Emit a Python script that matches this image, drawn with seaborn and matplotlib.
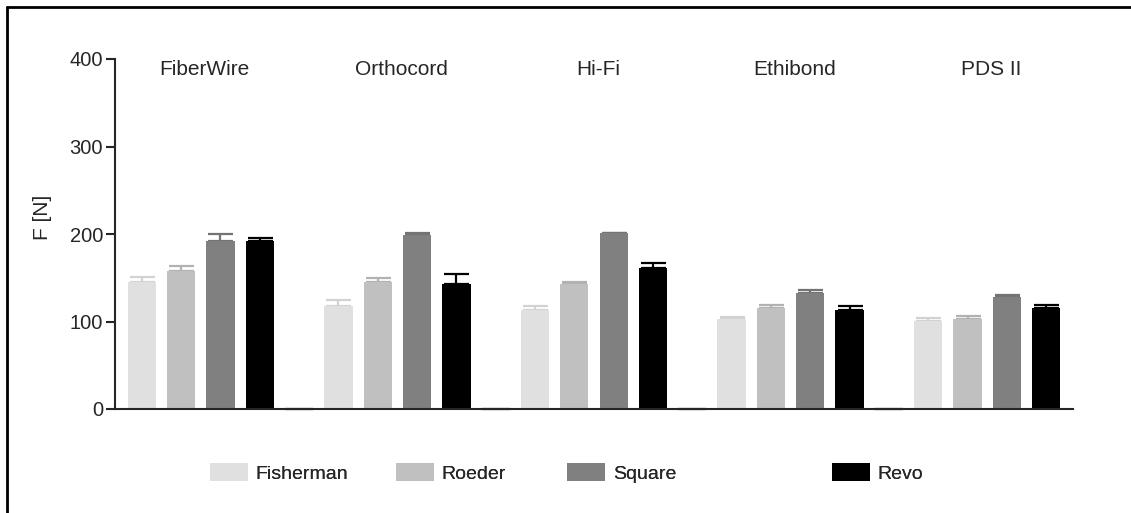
import numpy as np
import pandas as pd
import matplotlib
matplotlib.use("Agg")
import matplotlib.pyplot as plt
from matplotlib.lines import Line2D
from matplotlib.patches import Patch
import seaborn as sns

sutures = ["FiberWire", "Orthocord", "Hi-Fi", "Ethibond", "PDS II"]
knots = ["Fisherman", "Roeder", "Square", "Revo"]

fisherman_mean = [145, 118, 113, 103, 101]
fisherman_sd = [5.5, 7, 4.6, 2, 2.6]
roeder_mean = [158, 145, 143, 115, 103]
roeder_sd = [5, 4.6, 2.6, 3.8, 3.8]
square_mean = [192, 199, 201, 133, 128]
square_sd = [8, 2, 0.5, 3.4, 2.3]
revo_mean = [192, 143, 161, 113, 115]
revo_sd = [4, 11, 6.4, 4.9, 4.2]
# empty column GraphPad leaves between suture groups
spacer = [0, 0, 0, 0, 0]

knot_colors = ["#e0e0e0", "#c0c0c0", "#808080", "#000000"]
err_colors = ["#d2d2d2", "#b2b2b2", "#737373", "#000000"]

means = [fisherman_mean, roeder_mean, square_mean, revo_mean]
sds = [fisherman_sd, roeder_sd, square_sd, revo_sd]

rows = []
for knot, vals in zip(knots + ["gap"], means + [spacer]):
    for suture, v in zip(sutures, vals):
        rows.append({"suture": suture, "knot": knot, "F": v})
df = pd.DataFrame(rows)

sns.set_style("ticks")
plt.rcParams["font.family"] = ["Liberation Sans", "DejaVu Sans"]

fig = plt.figure(figsize=(11.31, 5.13), dpi=100)
ax = fig.add_axes([115 / 1131, 1 - 409 / 513, (1073 - 115) / 1131, 350 / 513])

sns.barplot(
    data=df, x="suture", y="F", hue="knot",
    order=sutures, hue_order=knots + ["gap"],
    palette=knot_colors + ["black"],
    width=1.0, gap=0.28, errorbar=None, legend=False,
    linewidth=0, ax=ax,
)

xlim = (-0.536, 4.336)
ax.set_xlim(*xlim)
ax.set_ylim(0, 400)

for cont, m, s, ec in zip(ax.containers[:4], means, sds, err_colors):
    bars = sorted(cont.patches, key=lambda b: b.get_x())
    xs = [b.get_x() + b.get_width() / 2 for b in bars]
    ax.errorbar(
        xs, m, yerr=[np.zeros(len(s)), s], fmt="none",
        ecolor=ec, elinewidth=1.6, capsize=9, capthick=1.6, zorder=0.5,
    )

# zero-height spacer bars show up as a heavier baseline piece
for b in ax.containers[4].patches:
    if b.get_x() + b.get_width() < xlim[1]:
        b.set_edgecolor("black")
        b.set_linewidth(1.6)
        b.set_clip_on(False)

for i, name in enumerate(sutures):
    ax.text(i - 0.08, 388, name, ha="center", va="center", fontsize=15)

ax.set_yticks([0, 100, 200, 300, 400])
ax.tick_params(axis="y", length=6.5, width=1.5, labelsize=14.5, pad=2)
ax.tick_params(axis="x", length=0, labelbottom=False)
ax.set_xlabel("")
ax.set_ylabel("")
sns.despine(ax=ax)
for sp in ["left", "bottom"]:
    ax.spines[sp].set_linewidth(1.5)

fig.text(43 / 1131, 1 - 217 / 513, "F [N]", rotation=90,
         ha="center", va="center", fontsize=15)

legend_x = [210, 396, 567, 832]
for knot, col, lx in zip(knots, knot_colors, legend_x):
    leg = fig.legend(
        handles=[Patch(facecolor=col, edgecolor="none", label=knot)],
        loc="center left", bbox_to_anchor=(lx / 1131, 1 - 473 / 513),
        frameon=False, fontsize=14, borderpad=0, borderaxespad=0,
        handlelength=1.95, handleheight=0.98, handletextpad=0.4,
    )
    fig.add_artist(leg)

# frame around the whole panel (left and top edges visible)
fig.add_artist(Line2D([6.5 / 1131, 6.5 / 1131], [0, 1 - 6.5 / 513],
                      transform=fig.transFigure, color="black", lw=2))
fig.add_artist(Line2D([6.5 / 1131, 1], [1 - 6.5 / 513, 1 - 6.5 / 513],
                      transform=fig.transFigure, color="black", lw=2))

fig.savefig("out.png", dpi=100)
